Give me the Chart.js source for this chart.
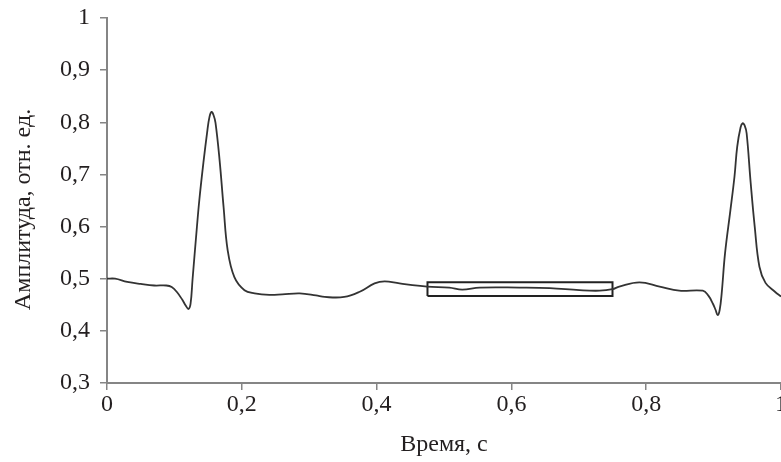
<!DOCTYPE html>
<html>
<head>
<meta charset="utf-8">
<script src="https://cdn.jsdelivr.net/npm/chart.js@4"></script>
<style>
  html, body { margin: 0; padding: 0; background: #fff; }
  #wrap { width: 781px; height: 462px; position: relative; }
</style>
</head>
<body>
<div id="wrap"><canvas id="chart"></canvas></div>
<script>
// Signal (time, s / amplitude, rel. units)
const signalX = [0, 0.012, 0.03, 0.05, 0.07, 0.088, 0.096, 0.104, 0.112, 0.117, 0.121, 0.124, 0.127, 0.133, 0.137,
  0.143, 0.149, 0.152, 0.155, 0.158, 0.161, 0.167, 0.173, 0.179, 0.189, 0.204, 0.219, 0.241, 0.26, 0.286, 0.31,
  0.323, 0.352, 0.375, 0.397, 0.412, 0.434, 0.475, 0.508, 0.527, 0.553, 0.612, 0.657, 0.701, 0.731, 0.750, 0.760,
  0.790, 0.820, 0.849, 0.884, 0.892, 0.899, 0.903, 0.906, 0.909, 0.912, 0.917, 0.925, 0.931, 0.935, 0.940, 0.943,
  0.946, 0.949, 0.955, 0.961, 0.968, 0.977, 0.991, 1.0];
const signalY = [0.500, 0.500, 0.494, 0.490, 0.487, 0.487, 0.484, 0.474, 0.459, 0.448, 0.442, 0.452, 0.500, 0.593, 0.651,
  0.722, 0.785, 0.810, 0.820, 0.814, 0.799, 0.728, 0.637, 0.555, 0.503, 0.478, 0.472, 0.469, 0.470, 0.472, 0.468,
  0.465, 0.465, 0.475, 0.491, 0.495, 0.491, 0.485, 0.483, 0.479, 0.483, 0.483, 0.482, 0.478, 0.477, 0.480, 0.485,
  0.493, 0.485, 0.477, 0.477, 0.468, 0.452, 0.440, 0.430, 0.440, 0.472, 0.549, 0.632, 0.696, 0.753, 0.790, 0.798,
  0.794, 0.779, 0.684, 0.600, 0.523, 0.492, 0.475, 0.466];

// highlighted segment (rectangle corners)
const boxX = [0.4755, 0.4755, 0.750, 0.750, 0.4755];
const boxY = [0.467, 0.493, 0.493, 0.467, 0.467];

const xTickLabels = ['0', '0,2', '0,4', '0,6', '0,8', '1'];
const yTickLabels = ['0,3', '0,4', '0,5', '0,6', '0,7', '0,8', '0,9', '1'];

const axisGray = '#858585';
const textColor = '#231f20';
const serif = "'Liberation Serif', 'Times New Roman', serif";

const toPoints = (xs, ys) => xs.map((x, i) => ({ x: x, y: ys[i] }));

const axisGrid = {
  drawOnChartArea: false,
  drawTicks: true,
  color: axisGray,
  tickColor: axisGray,
  tickWidth: 1.5,
  lineWidth: 1.5,
  tickLength: 7
};

new Chart(document.getElementById('chart'), {
  type: 'line',
  data: {
    datasets: [{
      data: toPoints(signalX, signalY),
      borderColor: '#333333',
      borderWidth: 1.8,
      pointRadius: 0,
      tension: 0.4,
      fill: false
    }, {
      data: toPoints(boxX, boxY),
      borderColor: '#222222',
      borderWidth: 2,
      pointRadius: 0,
      tension: 0,
      fill: false
    }]
  },
  options: {
    responsive: true,
    maintainAspectRatio: false,
    animation: false,
    layout: { padding: { top: 18, right: 0, left: 0, bottom: 0 } },
    plugins: { legend: { display: false }, tooltip: { enabled: false } },
    scales: {
      x: {
        type: 'linear',
        min: 0,
        max: 1,
        grid: axisGrid,
        border: { color: axisGray, width: 2 },
        ticks: {
          stepSize: 0.2,
          padding: 0,
          color: textColor,
          maxRotation: 0,
          font: { family: serif, size: 24 },
          callback: (v, i) => xTickLabels[i]
        },
        title: {
          display: true,
          text: 'Время, с',
          color: textColor,
          font: { family: serif, size: 24 },
          padding: { top: 0, bottom: 3 }
        },
        afterFit: (scale) => {
          scale.height = 79;
          scale.paddingLeft = 0;
          scale.paddingRight = 0;
        }
      },
      y: {
        min: 0.3,
        max: 1,
        grid: axisGrid,
        border: { color: axisGray, width: 2 },
        ticks: {
          stepSize: 0.1,
          padding: 10,
          color: textColor,
          font: { family: serif, size: 24 },
          callback: (v, i) => yTickLabels[i]
        },
        title: {
          display: true,
          text: 'Амплитуда, отн. ед.\u00a0\u00a0\u00a0',
          color: textColor,
          font: { family: serif, size: 24 },
          padding: { top: 9, bottom: 0 }
        },
        afterFit: (scale) => {
          scale.width = 107;
          scale.paddingTop = 0;
          scale.paddingBottom = 0;
        }
      }
    }
  }
});
</script>
</body>
</html>
